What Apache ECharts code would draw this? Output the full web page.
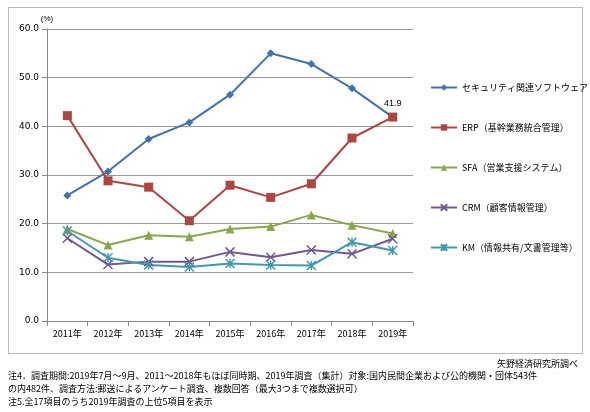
<!DOCTYPE html><html><head><meta charset="utf-8">
<script src="https://cdn.jsdelivr.net/npm/echarts@6/dist/echarts.min.js"></script>
<style>body{margin:0;background:#fff}#c{width:590px;height:412px}
#box{position:absolute;left:8px;top:7px;width:575px;height:347px;border:1px solid #bbb;box-sizing:border-box}</style></head><body>
<div id="box"></div><div id="c"></div>
<script>
const categories=['2011年','2012年','2013年','2014年','2015年','2016年','2017年','2018年','2019年'];
const names=['セキュリティ関連ソフトウェア','ERP（基幹業務統合管理）','SFA（営業支援システム）','CRM（顧客情報管理）','KM（情報共有/文書管理等）'];
const security=[25.8,30.7,37.4,40.8,46.5,55.0,52.8,47.8,41.9];
const erp=[42.2,28.8,27.5,20.6,27.9,25.4,28.2,37.6,41.9];
const sfa=[18.9,15.6,17.6,17.3,18.9,19.4,21.8,19.7,18.0];
const crm=[17.0,11.6,12.2,12.2,14.2,13.1,14.6,13.8,16.9];
const km=[18.5,13.0,11.5,11.1,11.8,11.5,11.4,16.2,14.5];
const colors=['#4572A7','#AA4643','#89A54E','#71588F','#4198AF'];
const symbols=['diamond','rect','triangle','path://M0,0L10,10M10,0L0,10','path://M0,0L10,10M10,0L0,10M5,0L5,10'];
const sizes=[8,9,9,9,9];
const data=[security,erp,sfa,crm,km];
const f='"Noto Sans CJK JP",sans-serif';
const chart=echarts.init(document.getElementById('c'));
chart.setOption({
animation:false,
grid:{left:47,right:177,top:29,bottom:91},
xAxis:{type:'category',data:categories,boundaryGap:true,
 axisLine:{lineStyle:{color:'#888'}},axisTick:{show:true,lineStyle:{color:'#888'}},
 axisLabel:{color:'#000',fontSize:9,fontFamily:f,margin:8}},
yAxis:{type:'value',min:0,max:60,interval:10,name:'(%)',nameGap:6,
 nameTextStyle:{color:'#000',fontSize:8,align:'center',padding:[0,0,0,0]},
 axisLine:{show:true,lineStyle:{color:'#888'}},axisTick:{show:true,lineStyle:{color:'#888'}},
 splitLine:{lineStyle:{color:'#999'}},
 axisLabel:{color:'#000',fontSize:9,formatter:v=>v.toFixed(1),fontFamily:'Verdana,DejaVu Sans'}},
legend:{orient:'vertical',left:425,top:78,itemGap:31,itemWidth:26,itemHeight:8,
 textStyle:{fontSize:9,fontFamily:f,color:'#000'},data:names},
series:names.map((n,i)=>({name:n,type:'line',data:data[i],symbol:symbols[i],symbolSize:sizes[i],
 color:colors[i],lineStyle:{width:2,color:colors[i]},
 itemStyle:{color:i>=3?'transparent':colors[i],borderColor:colors[i],borderWidth:i>=3?1.5:0},
 label:i===0?{show:true,formatter:p=>p.dataIndex===8?'41.9':'',position:'top',fontSize:9,color:'#000',offset:[0,0]}:{show:false}}))
});
</script>
<div style="position:absolute;right:12px;top:357px;font:9px 'Noto Sans CJK JP';">矢野経済研究所調べ</div>
<div style="position:absolute;left:8px;top:369px;font:9px/13px 'Noto Sans CJK JP';">注4．調査期間:2019年7月～9月、2011～2018年もほぼ同時期、2019年調査（集計）対象:国内民間企業および公的機関・団体543件<br>の内482件、調査方法:郵送によるアンケート調査、複数回答（最大3つまで複数選択可）<br>注5.全17項目のうち2019年調査の上位5項目を表示</div>
</body></html>
